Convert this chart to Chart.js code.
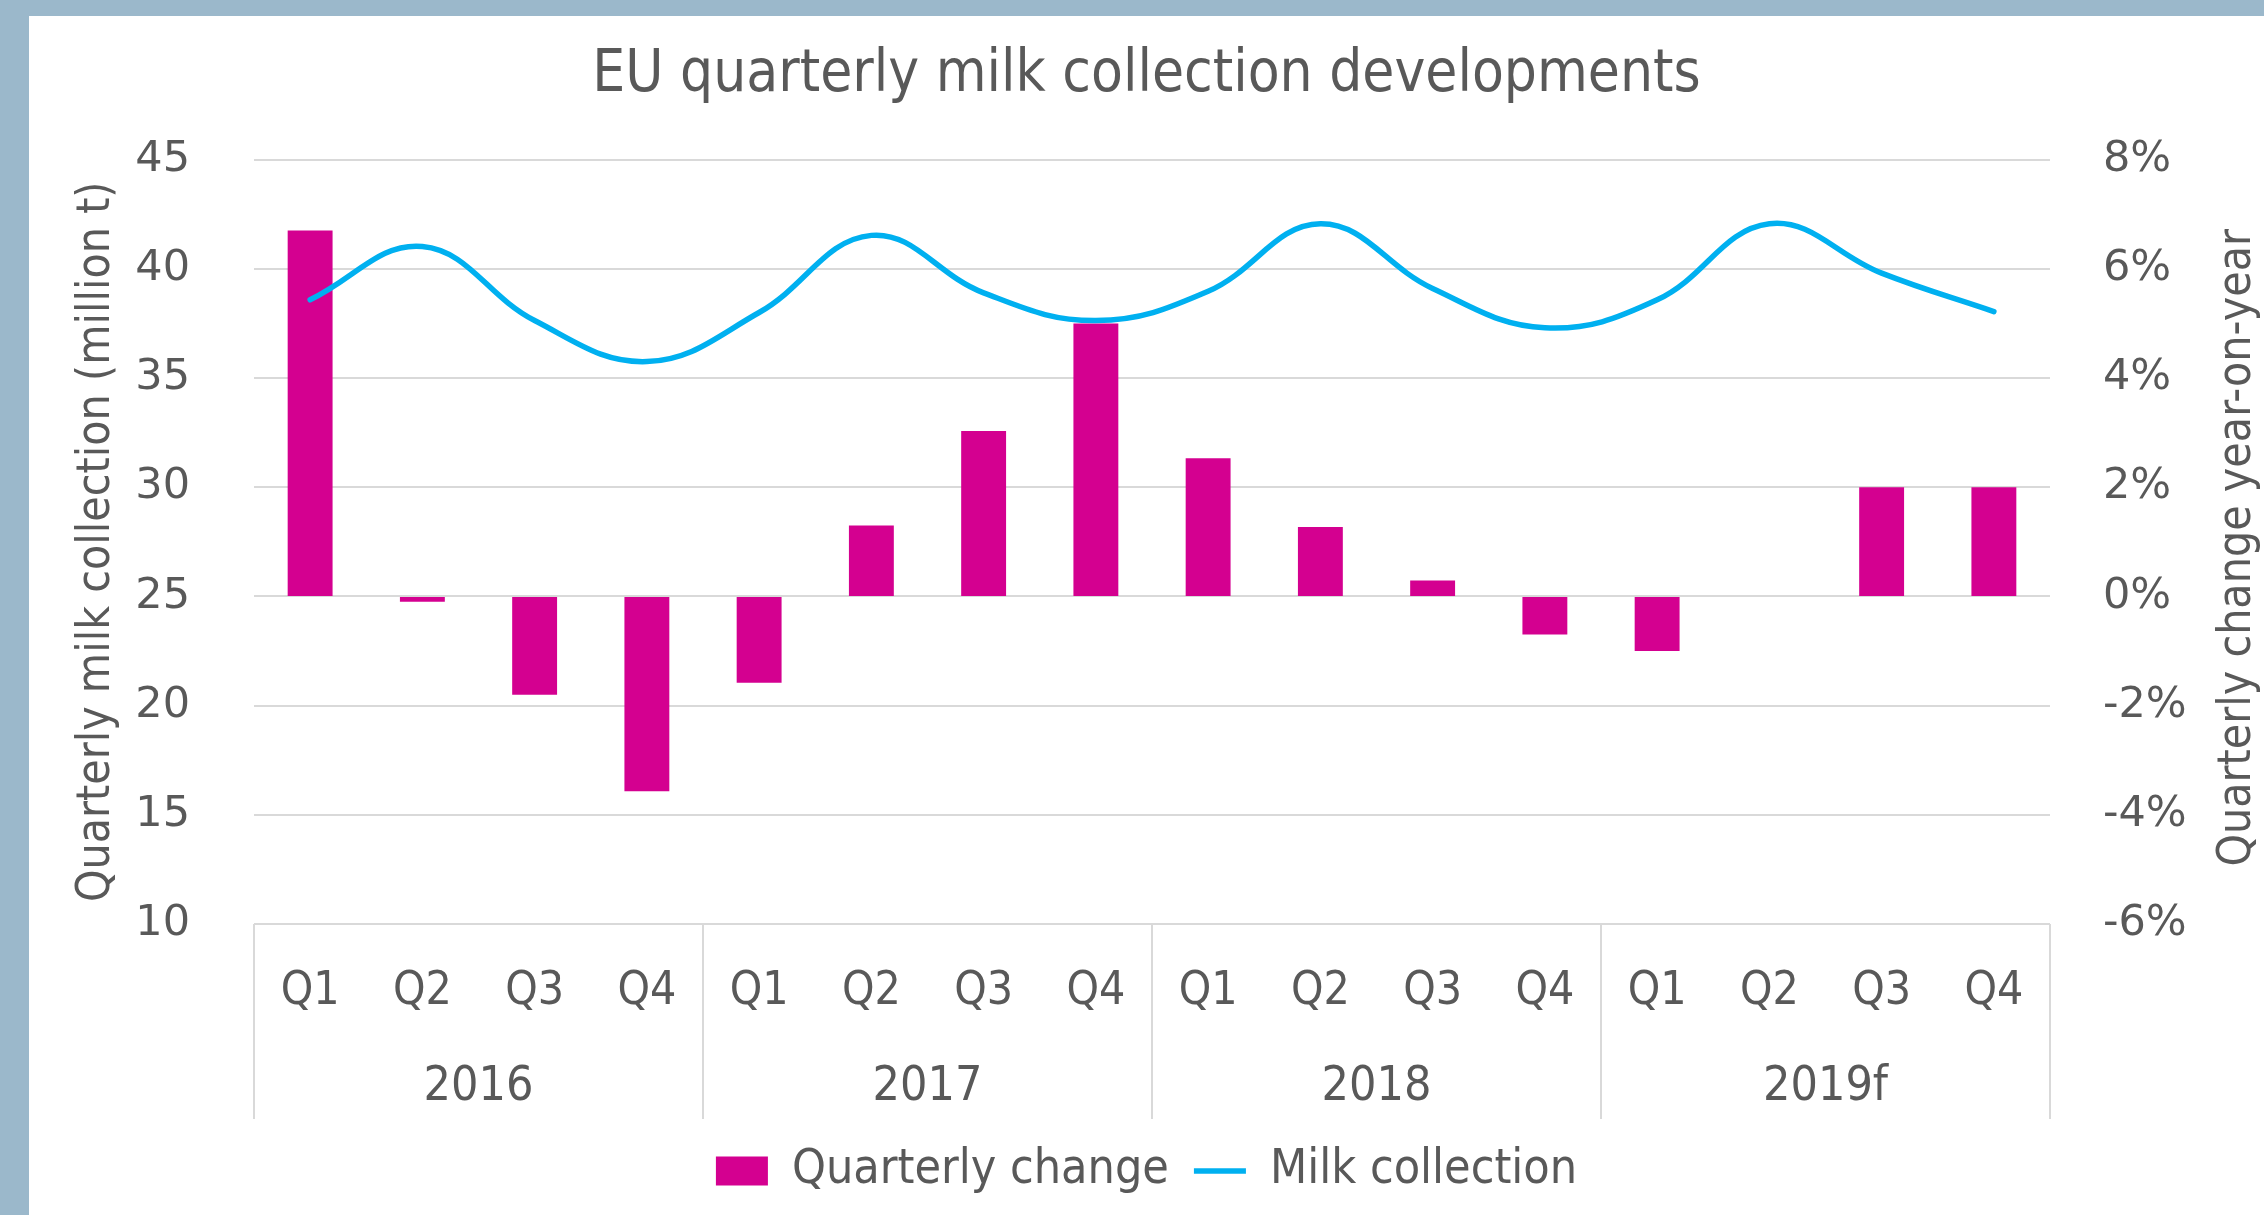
<!DOCTYPE html>
<html>
<head>
<meta charset="utf-8">
<script src="https://cdn.jsdelivr.net/npm/chart.js@4"></script>
<style>
  html, body { margin: 0; padding: 0; background: #9bb8cb; }
  #wrap { position: absolute; left: 29px; top: 16px; width: 2235px; height: 1199px; background: #fff; }
</style>
</head>
<body>
<div id="wrap"><canvas id="milkChart" width="2235" height="1199"></canvas></div>
<script>
// data
const quarters = ["Q1", "Q2", "Q3", "Q4", "Q1", "Q2", "Q3", "Q4", "Q1", "Q2", "Q3", "Q4", "Q1", "Q2", "Q3", "Q4"];
const years = ["2016", "2017", "2018", "2019f"];
const quarterlyChange = [6.7, -0.1, -1.8, -3.57, -1.58, 1.3, 3.03, 5.0, 2.53, 1.27, 0.29, -0.7, -1.0, 0, 2.0, 2.0];
const milkCollection = [38.58, 41.02, 37.63, 35.75, 38.0, 41.53, 38.9, 37.63, 38.97, 42.06, 39.1, 37.3, 38.58, 42.06, 39.8, 38.04];
const leftRange = [10, 45, 5];
const rightRange = [-6, 8, 2];

const TEXT = "#595959";
const GRID = "#d9d9d9";
const NARROW = "'Liberation Sans Narrow', 'DejaVu Sans Condensed', sans-serif";
const WIDE = "'DejaVu Sans', sans-serif";

// right axis title reads bottom-to-top, so draw it ourselves
const rightTitle = {
    id: "rightTitle",
    afterDraw(chart) {
        const s = chart.scales.y1;
        const ctx = chart.ctx;
        ctx.save();
        ctx.translate(s.right - 26, (s.top + s.bottom) / 2 + 6);
        ctx.rotate(-Math.PI / 2);
        ctx.font = "46px " + NARROW;
        ctx.fillStyle = TEXT;
        ctx.textAlign = "center";
        ctx.textBaseline = "middle";
        ctx.fillText("Quarterly change year-on-year", 0, 0);
        ctx.restore();
    }
};

new Chart(document.getElementById("milkChart"), {
    type: "bar",
    data: {
        labels: quarters,
        datasets: [{
            label: "Quarterly change",
            data: quarterlyChange,
            yAxisID: "y1",
            backgroundColor: "#d40090",
            borderWidth: 0,
            barPercentage: 0.4,
            categoryPercentage: 1,
            pointStyle: "rect",
            order: 2
        }, {
            type: "line",
            label: "Milk collection",
            data: milkCollection,
            yAxisID: "y",
            borderColor: "#00b0f0",
            backgroundColor: "#00b0f0",
            borderWidth: 5.5,
            borderCapStyle: "round",
            tension: 0.4,
            pointRadius: 0,
            pointStyle: "line",
            order: 1
        }]
    },
    options: {
        responsive: false,
        animation: false,
        devicePixelRatio: 1,
        layout: { padding: { bottom: 10 } },
        plugins: {
            tooltip: { enabled: false },
            title: {
                display: true,
                text: "EU quarterly milk collection developments",
                color: TEXT,
                font: { family: NARROW, size: 58, weight: "normal" },
                padding: { top: 25, bottom: 49 }
            },
            legend: {
                position: "bottom",
                labels: {
                    color: TEXT,
                    font: { family: NARROW, size: 48 },
                    usePointStyle: true,
                    pointStyleWidth: 52,
                    boxHeight: 29,
                    padding: 25,
                    sort: (a, b) => a.datasetIndex - b.datasetIndex
                }
            }
        },
        scales: {
            x: {
                offset: true,
                weight: 0,
                border: { display: false },
                grid: {
                    offset: true,
                    drawOnChartArea: false,
                    tickLength: 96,
                    lineWidth: 2,
                    color: c => (c.index === undefined || c.index % 4 === 0) ? GRID : "rgba(0,0,0,0)"
                },
                ticks: { color: TEXT, font: { family: NARROW, size: 46 }, padding: -56, maxRotation: 0, autoSkip: false },
                afterFit: s => { s.height = 96; }
            },
            x2: {
                type: "category",
                position: "bottom",
                labels: years,
                offset: true,
                weight: 1,
                border: { display: false },
                grid: { offset: true, drawOnChartArea: false, tickLength: 99, lineWidth: 2, color: GRID },
                ticks: { color: TEXT, font: { family: NARROW, size: 48 }, padding: -60, maxRotation: 0 },
                afterFit: s => { s.height = 102; }
            },
            y: {
                position: "left",
                min: leftRange[0],
                max: leftRange[1],
                border: { display: false },
                grid: { color: GRID, lineWidth: 2, drawTicks: false },
                ticks: { stepSize: leftRange[2], color: TEXT, font: { family: WIDE, size: 43 }, padding: 64 },
                title: {
                    display: true,
                    text: "Quarterly milk collection (million t)",
                    color: TEXT,
                    font: { family: NARROW, size: 46 },
                    padding: { top: 40, bottom: 0 }
                },
                afterFit: s => { s.width = 225; }
            },
            y1: {
                position: "right",
                min: rightRange[0],
                max: rightRange[1],
                border: { display: false },
                grid: { drawOnChartArea: false, drawTicks: false },
                ticks: { stepSize: rightRange[2], color: TEXT, font: { family: WIDE, size: 43 }, padding: 53, callback: v => v + "%" },
                afterFit: s => { s.width = 214; }
            }
        }
    },
    plugins: [rightTitle]
});
</script>
</body>
</html>
